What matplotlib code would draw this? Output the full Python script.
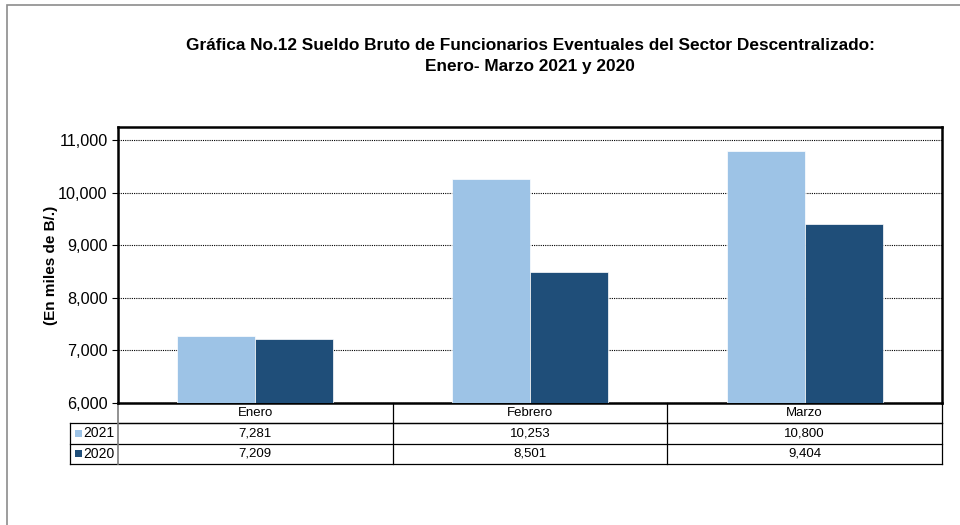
import matplotlib.pyplot as plt
import matplotlib.transforms as mtransforms
from matplotlib.patches import Rectangle
import numpy as np

plt.rcParams["font.family"] = ["Liberation Sans", "DejaVu Sans"]

meses = ["Enero", "Febrero", "Marzo"]
series = ["2021", "2020"]
v2021 = [7281, 10253, 10800]
v2020 = [7209, 8501, 9404]
colores = ["#9DC3E6", "#1F4E79"]

fig = plt.figure(figsize=(9.6, 5.25), dpi=100)
W, H = 960.0, 525.0

# marco exterior (solo se ven los bordes superior e izquierdo)
fig.patches.append(Rectangle((7 / W, -20 / H), 980 / W, 540 / H, transform=fig.transFigure,
                             fill=False, edgecolor="#8c8c8c", linewidth=1.2, clip_on=False))

ax = fig.add_axes([118 / W, (H - 403) / H, 824 / W, 276 / H])
x = np.arange(len(meses))
bw = 0.284
ax.bar(x - bw / 2, v2021, bw, color=colores[0], edgecolor="white", linewidth=0.5, zorder=3)
ax.bar(x + bw / 2, v2020, bw, color=colores[1], edgecolor="white", linewidth=0.5, zorder=3)

ax.set_xlim(-0.5, 2.5)
ax.set_ylim(6000, 11250)
ax.set_yticks(np.arange(6000, 11001, 1000))
ax.set_yticklabels([f"{t:,}" for t in range(6000, 11001, 1000)], fontsize=11.7)
ax.set_xticks([])
ax.tick_params(axis="y", length=4, width=0.8, direction="out")
ax.grid(axis="y", color="black", linestyle=(0, (1, 1)), linewidth=0.8, zorder=1)
for s in ax.spines.values():
    s.set_linewidth(1.8)
    s.set_color("black")

ax.set_ylabel("(En miles de B/.)", fontsize=11, fontweight="bold", labelpad=0)

fig.text(530 / W, 1 - 45 / H, "Gráfica No.12 Sueldo Bruto de Funcionarios Eventuales del Sector Descentralizado:",
         ha="center", va="center", fontsize=12.4, fontweight="bold")
fig.text(530 / W, 1 - 66 / H, "Enero- Marzo 2021 y 2020",
         ha="center", va="center", fontsize=12.4, fontweight="bold")

# tabla de datos
rh = 20.3 / 276.0
lab_left = (70 - 118) / 824.0
trans = mtransforms.blended_transform_factory(ax.transData, ax.transAxes)
lk = dict(transform=ax.transAxes, clip_on=False, color="black", linewidth=0.9)

ax.plot([0, 1], [-rh, -rh], **lk)
ax.plot([lab_left, 1], [-rh, -rh], **lk)
ax.plot([lab_left, 1], [-2 * rh, -2 * rh], **lk)
ax.plot([lab_left, 1], [-3 * rh, -3 * rh], **lk)
ax.plot([lab_left, lab_left], [-rh, -3 * rh], **lk)
ax.plot([0, 0], [0, -3 * rh], transform=ax.transAxes, clip_on=False, color="#7f7f7f", linewidth=1.2)
for c in [1 / 3, 2 / 3, 1]:
    ax.plot([c, c], [0, -3 * rh], **lk)

for i, m in enumerate(meses):
    ax.text(x[i], -0.5 * rh, m, transform=trans, ha="center", va="center", fontsize=9.5)
    ax.text(x[i], -1.5 * rh, f"{v2021[i]:,}", transform=trans, ha="center", va="center", fontsize=9.5)
    ax.text(x[i], -2.5 * rh, f"{v2020[i]:,}", transform=trans, ha="center", va="center", fontsize=9.5)

sq_w = 7 / 824.0
sq_h = 7 / 276.0
for j, (s, col) in enumerate(zip(series, colores)):
    yc = -(1.5 + j) * rh
    ax.add_patch(Rectangle(((75 - 118) / 824.0, yc - sq_h / 2), sq_w, sq_h, transform=ax.transAxes,
                           clip_on=False, facecolor=col, edgecolor="none"))
    ax.text((83.5 - 118) / 824.0, yc, s, transform=ax.transAxes, ha="left", va="center", fontsize=10)

fig.savefig("out.png", dpi=100)
